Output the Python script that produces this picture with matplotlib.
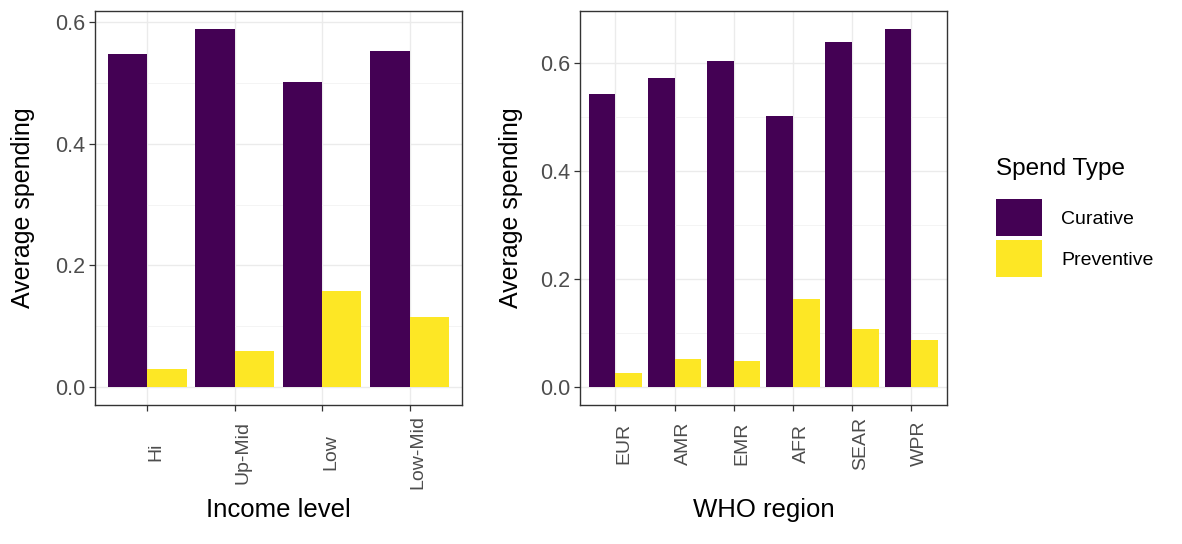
import numpy as np
import matplotlib
matplotlib.use("Agg")
import matplotlib.pyplot as plt
from matplotlib.patches import Patch
from matplotlib.ticker import MultipleLocator

plt.rcParams['font.family'] = ['Liberation Sans', 'DejaVu Sans']

# data
income_levels = ['Hi', 'Up-Mid', 'Low', 'Low-Mid']
income_curative = [0.548, 0.589, 0.502, 0.552]
income_preventive = [0.030, 0.059, 0.158, 0.115]

who_regions = ['EUR', 'AMR', 'EMR', 'AFR', 'SEAR', 'WPR']
who_curative = [0.542, 0.572, 0.604, 0.503, 0.640, 0.664]
who_preventive = [0.026, 0.052, 0.048, 0.164, 0.107, 0.088]

spend_types = ['Curative', 'Preventive']
colors = ['#440154', '#FDE725']

fig = plt.figure(figsize=(11.82, 5.44), dpi=100)
ax1 = fig.add_axes([0.0801, 0.2555, 0.3108, 0.7248])
ax2 = fig.add_axes([0.4907, 0.2555, 0.3102, 0.7248])


def panel(ax, cats, cur, prev, xlabel, tickpad, ylab_x):
    x = np.arange(len(cats))
    w = 0.45
    ax.bar(x - w / 2, cur, w, color=colors[0], zorder=3)
    ax.bar(x + w / 2, prev, w, color=colors[1], zorder=3)
    top = max(max(cur), max(prev))
    ax.set_xlim(-0.6, len(cats) - 1 + 0.6)
    ax.set_ylim(-0.05 * top, 1.05 * top)
    ax.set_xticks(x)
    ax.set_xticklabels(cats)
    ax.yaxis.set_major_locator(MultipleLocator(0.2))
    ax.yaxis.set_minor_locator(MultipleLocator(0.1))
    ax.grid(True, which='major', color='#EBEBEB', lw=1.0, zorder=0)
    ax.grid(True, which='minor', axis='y', color='#F2F2F2', lw=0.6, zorder=0)
    ax.tick_params(axis='y', which='minor', length=0)
    ax.tick_params(axis='both', which='major', length=4, width=0.9,
                   color='#333333', labelcolor='#4D4D4D')
    ax.tick_params(axis='y', labelsize=15.5, pad=3)
    ax.tick_params(axis='x', labelsize=14, pad=tickpad)
    plt.setp(ax.get_xticklabels(), rotation=90, ha='center', va='top',
             rotation_mode='anchor')
    ax.yaxis.set_major_formatter(plt.FormatStrFormatter('%.1f'))
    for s in ax.spines.values():
        s.set_color('#333333')
        s.set_linewidth(1.0)
    ax.set_ylabel('Average spending', fontsize=18)
    ax.yaxis.set_label_coords(ylab_x, 0.5)
    ax.set_xlabel(xlabel, fontsize=18.5)
    ax.xaxis.set_label_coords(0.5, -0.236)


panel(ax1, income_levels, income_curative, income_preventive,
      'Income level', 30, -0.163)
panel(ax2, who_regions, who_curative, who_preventive,
      'WHO region', 23.5, -0.155)

handles = [Patch(facecolor=c, edgecolor='none') for c in colors]
leg = fig.legend(handles, spend_types, title='Spend Type',
                 loc='upper left', bbox_to_anchor=(996 / 1182, 1 - 158 / 544),
                 frameon=False, fontsize=14, title_fontsize=17.5,
                 handlelength=2.35, handleheight=2.55, handletextpad=1.0,
                 labelspacing=0.2, borderpad=0, borderaxespad=0,
                 alignment='left')
leg._legend_box.sep = 14

fig.savefig('out.png', dpi=100)
